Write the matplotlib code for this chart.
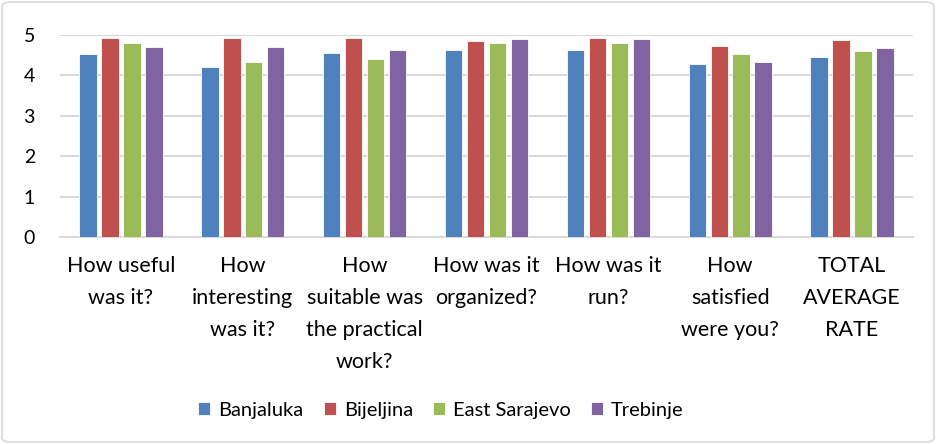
import matplotlib
matplotlib.use("Agg")
import matplotlib.pyplot as plt
import numpy as np
from matplotlib.patches import FancyBboxPatch

categories = ["How useful\nwas it?", "How\ninteresting\nwas it?", "How\nsuitable was\nthe practical\nwork?",
              "How was it\norganized?", "How was it\nrun?", "How\nsatisfied\nwere you?", "TOTAL\nAVERAGE\nRATE"]
series_names = ["Banjaluka", "Bijeljina", "East Sarajevo", "Trebinje"]
banjaluka = [4.52, 4.20, 4.55, 4.64, 4.64, 4.29, 4.46]
bijeljina = [4.92, 4.92, 4.92, 4.85, 4.92, 4.72, 4.87]
east_sarajevo = [4.79, 4.32, 4.40, 4.79, 4.79, 4.52, 4.60]
trebinje = [4.70, 4.70, 4.64, 4.91, 4.91, 4.34, 4.69]
colors = ["#4F81BD", "#C0504D", "#9BBB59", "#8064A2"]

plt.rcParams['font.family'] = ['Lato', 'DejaVu Sans']

fig = plt.figure(figsize=(9.36, 4.44), dpi=100)
ax = fig.add_axes([60/936, 1-237/444, 853/936, 202/444])

x = np.arange(len(categories))
data = [banjaluka, bijeljina, east_sarajevo, trebinje]
w = 0.143
step = 0.18
for i, (vals, c, n) in enumerate(zip(data, colors, series_names)):
    ax.bar(x + (i - 1.5) * step, vals, width=w, color=c, label=n,
           edgecolor='white', linewidth=0.6, zorder=3)

ax.set_xlim(-0.5, len(categories) - 0.5)
ax.set_ylim(0, 5)
ax.set_yticks(range(6))
ax.yaxis.grid(True, color='#D9D9D9', linewidth=1.5, zorder=0)
for s in ['left', 'right', 'top']:
    ax.spines[s].set_visible(False)
ax.spines['bottom'].set_color('#D9D9D9')
ax.spines['bottom'].set_linewidth(1.5)
ax.tick_params(axis='both', length=0, colors='black')
ax.tick_params(axis='y', pad=18, labelsize=14)
ax.tick_params(axis='x', pad=14, labelsize=15.5)
ax.set_xticks(x)
ax.set_xticklabels(categories, linespacing=1.75, va='top')

leg = fig.legend(loc='center', bbox_to_anchor=(441/936, 1-410/444), ncol=4, frameon=False,
                 fontsize=14.5, handlelength=0.6, handleheight=0.6, handletextpad=0.4,
                 columnspacing=1.0)

border = FancyBboxPatch((2/936, 2/444), 932/936, 440/444, boxstyle="round,pad=0,rounding_size=0.01",
                        transform=fig.transFigure, fill=False, edgecolor='#D9D9D9', linewidth=1.2)
fig.patches.append(border)

fig.savefig("out.png", dpi=100)
